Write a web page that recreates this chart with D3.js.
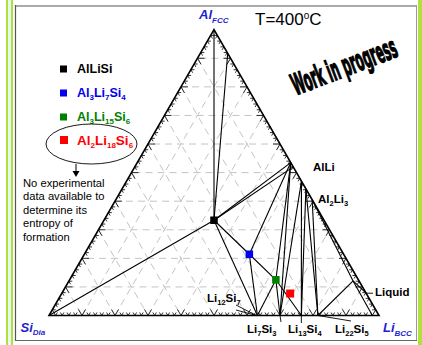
<!DOCTYPE html>
<html>
<head>
<meta charset="utf-8">
<script src="https://cdn.jsdelivr.net/npm/d3@7"></script>
<style>
  body { margin: 0; background: #fff; }
  text { font-family: "Liberation Sans", Arial, sans-serif; }
</style>
</head>
<body>
<svg id="chart" width="422" height="345"></svg>
<script>
// ---- data -------------------------------------------------------------
// compositions as atom counts [Al, Li, Si]
const vertexNodes = { Al: [1, 0, 0], Li: [0, 1, 0], Si: [0, 0, 1] };
const ternaryCompounds = [
  { id: "AlLiSi",     at: [1, 1, 1],  color: "#000000" },
  { id: "Al3Li7Si4",  at: [3, 7, 4],  color: "#0000ee" },
  { id: "Al3Li15Si6", at: [3, 15, 6], color: "#008000" },
  { id: "Al2Li18Si6", at: [2, 18, 6], color: "#ff0000" }
];
const binaryLiSi = [
  { id: "Li12Si7", at: [0, 12, 7] },
  { id: "Li7Si3",  at: [0, 7, 3] },
  { id: "Li13Si4", at: [0, 13, 4] },
  { id: "Li22Si5", at: [0, 22, 5] }
];
// phase-boundary points, mole fractions [Al, Li, Si]
const boundaryNodes = {
  AlFccMax: [0.917, 0.083, 0],
  AlLiA:    [0.535, 0.465, 0],
  AlLiA2:   [0.520, 0.480, 0],
  AlLiB:    [0.470, 0.530, 0],
  Al2Li3A:  [0.443, 0.557, 0],
  Al2Li3B:  [0.405, 0.595, 0],
  Liq1:     [0.121, 0.861, 0.018],
  LiqEdge:  [0.078, 0.922, 0],
  LiqBase:  [0, 0.980, 0.020]
};
// tie lines / phase boundaries at 400 °C
const tieLines = [
  ["Al", "AlLiSi"], ["AlFccMax", "AlLiSi"], ["Si", "AlLiSi"],
  ["AlLiSi", "AlLiA"], ["AlLiSi", "AlLiA2"], ["AlLiSi", "Li12Si7"],
  ["AlLiSi", "Al3Li7Si4"], ["Al3Li7Si4", "Li12Si7"], ["Al3Li7Si4", "AlLiA"],
  ["Al3Li7Si4", "Al3Li15Si6"], ["Al3Li15Si6", "Li12Si7"], ["Al3Li15Si6", "AlLiA"],
  ["Al3Li15Si6", "Li7Si3"], ["Al3Li15Si6", "Li13Si4"], ["Li7Si3", "AlLiA"],
  ["Li7Si3", "AlLiB"], ["Li13Si4", "AlLiB"], ["Li13Si4", "Al2Li3A"],
  ["Li22Si5", "Al2Li3A"], ["Li22Si5", "Al2Li3B"], ["Li22Si5", "Liq1"],
  ["Al2Li3B", "Liq1"], ["Liq1", "LiqBase"], ["Liq1", "LiqEdge"]
];
const gridValues = [0.1, 0.2, 0.3, 0.4, 0.5, 0.6, 0.7, 0.8, 0.9];
const tickFractions = d3.range(1, 50).map(i => i / 50);
const legendLabels = [
  { id: "AlLiSi",     parts: [["AlLiSi"]] },
  { id: "Al3Li7Si4",  parts: [["Al"], ["3", 1], ["Li"], ["7", 1], ["Si"], ["4", 1]] },
  { id: "Al3Li15Si6", parts: [["Al"], ["3", 1], ["Li"], ["15", 1], ["Si"], ["6", 1]] },
  { id: "Al2Li18Si6", parts: [["Al"], ["2", 1], ["Li"], ["18", 1], ["Si"], ["6", 1]] }
];
const noteLines = ["No experimental", "data available to", "determine its", "entropy of", "formation"];

// ---- geometry ---------------------------------------------------------
const svg = d3.select("#chart");
const ux = d3.scaleLinear().domain([0, 1]).range([49, 379]);      // xLi + xAl/2
const vy = d3.scaleLinear().domain([0, 1]).range([315.5, 29.7]);  // xAl
function proj(c) {
  const t = c[0] + c[1] + c[2];
  const a = c[0] / t, l = c[1] / t;
  return [ux(l + a / 2), vy(a)];
}
const nodes = Object.assign({}, vertexNodes, boundaryNodes);
ternaryCompounds.forEach(d => nodes[d.id] = d.at);
binaryLiSi.forEach(d => nodes[d.id] = d.at);

// ---- frame ------------------------------------------------------------
const green = "#b2e03a";
svg.append("rect").attr("x", 6).attr("y", 0).attr("width", 7).attr("height", 345).attr("fill", green);
svg.append("rect").attr("x", 8).attr("y", 0).attr("width", 3).attr("height", 345).attr("fill", "#e6f7f4");
svg.append("rect").attr("x", 418).attr("y", 0).attr("width", 4).attr("height", 345).attr("fill", green);
svg.append("line").attr("x1", 15).attr("x2", 416.5).attr("y1", 6).attr("y2", 6).attr("stroke", "#aaa").attr("stroke-width", 2);
svg.append("line").attr("x1", 416.5).attr("x2", 416.5).attr("y1", 5).attr("y2", 340.5).attr("stroke", "#999").attr("stroke-width", 1);
svg.append("line").attr("x1", 15.5).attr("x2", 15.5).attr("y1", 5).attr("y2", 341).attr("stroke", "#555").attr("stroke-width", 1.2);
svg.append("line").attr("x1", 15).attr("x2", 417).attr("y1", 340.5).attr("y2", 340.5).attr("stroke", "#666").attr("stroke-width", 1.2);

// ---- dashed grid ------------------------------------------------------
const gridG = svg.append("g").attr("stroke", "#c4c4c4").attr("stroke-width", 1)
  .attr("stroke-dasharray", "7,5").attr("fill", "none");
gridValues.forEach(g => {
  [[[g, 1 - g, 0], [g, 0, 1 - g]],
   [[0, g, 1 - g], [1 - g, g, 0]],
   [[1 - g, 0, g], [0, 1 - g, g]]].forEach(([p, q]) => {
    const a = proj(p), b = proj(q);
    gridG.append("line").attr("x1", a[0]).attr("y1", a[1]).attr("x2", b[0]).attr("y2", b[1]);
  });
});

// ---- edge ticks -------------------------------------------------------
const s3 = Math.sqrt(3) / 2;
const edges = [
  { at: f => [0, f, 1 - f], dirs: [[-0.5, -s3], [0.5, -s3]] },   // Si-Li
  { at: f => [f, 0, 1 - f], dirs: [[1, 0], [0.5, s3]] },         // Si-Al
  { at: f => [f, 1 - f, 0], dirs: [[-1, 0], [-0.5, s3]] }        // Al-Li
];
const tickG = svg.append("g").attr("stroke", "#000").attr("stroke-width", 0.8);
edges.forEach(e => tickFractions.forEach(f => {
  const p = proj(e.at(f));
  const len = Math.round(f * 50) % 5 === 0 ? 7 : 3.5;
  e.dirs.forEach(d => tickG.append("line")
    .attr("x1", p[0]).attr("y1", p[1])
    .attr("x2", p[0] + d[0] * len).attr("y2", p[1] + d[1] * len));
}));

// ---- triangle ---------------------------------------------------------
const tri = [proj(vertexNodes.Si), proj(vertexNodes.Li), proj(vertexNodes.Al)];
svg.append("path").attr("d", d3.line()(tri) + "Z")
  .attr("fill", "none").attr("stroke", "#000").attr("stroke-width", 1.6).attr("stroke-linejoin", "miter");

// ---- tie lines --------------------------------------------------------
const tieG = svg.append("g").attr("stroke", "#000").attr("stroke-width", 1.1);
tieLines.forEach(([p, q]) => {
  const a = proj(nodes[p]), b = proj(nodes[q]);
  tieG.append("line").attr("x1", a[0]).attr("y1", a[1]).attr("x2", b[0]).attr("y2", b[1]);
});

// ---- compound markers -------------------------------------------------
ternaryCompounds.forEach(d => {
  const p = proj(d.at), s = d.id === "Al2Li18Si6" ? 8 : 7.5;
  svg.append("rect").attr("x", p[0] - s / 2).attr("y", p[1] - s / 2)
    .attr("width", s).attr("height", s).attr("fill", d.color);
});

// ---- text helpers -----------------------------------------------------
function chem(x, y, parts, size, color, opt = {}) {
  const t = svg.append("text").attr("x", x).attr("y", y).attr("fill", color)
    .style("font-size", size + "px").style("font-weight", opt.weight || "bold")
    .style("font-style", opt.italic ? "italic" : "normal");
  const subSize = opt.subSize || size * 0.62, shift = opt.shift || size * 0.28;
  let off = 0;
  parts.forEach(([s, sub]) => {
    const target = sub ? shift : 0;
    t.append("tspan").attr("dy", target - off).style("font-size", (sub ? subSize : size) + "px").text(s);
    off = target;
  });
  return t;
}

// vertex labels
const vBlue = "#1f1fd0";
chem(199, 19, [["Al"], ["FCC", 1]], 13, vBlue, { italic: true, subSize: 8, shift: 3.5 });
chem(20.5, 331.5, [["Si"], ["Dia", 1]], 13, vBlue, { italic: true, subSize: 8, shift: 3.5 });
chem(383, 331.5, [["Li"], ["BCC", 1]], 13, vBlue, { italic: true, subSize: 8, shift: 4.5 });

// title
const title = svg.append("text").attr("x", 255).attr("y", 25).attr("fill", "#000").style("font-size", "17px");
title.append("tspan").text("T=400");
title.append("tspan").attr("dy", -6).style("font-size", "10px").text("o");
title.append("tspan").attr("dy", 6).text("C");

// stamp
svg.append("text")
  .attr("transform", "translate(344,66) rotate(-21) scale(0.8,1.85)")
  .attr("text-anchor", "middle").attr("dominant-baseline", "central")
  .style("font-family", "'Liberation Sans Narrow','DejaVu Sans Condensed',sans-serif")
  .style("font-weight", "bold").style("font-size", "16px")
  .attr("fill", "#000").attr("stroke", "#000").attr("stroke-width", 0.7)
  .text("Work in progress");

// legend
const legendY = [73, 97, 121, 145];
legendLabels.forEach((d, i) => {
  const comp = ternaryCompounds.find(c => c.id === d.id);
  const big = i === 3;
  const s = big ? 8 : 7;
  svg.append("rect").attr("x", 60).attr("y", legendY[i] - (big ? 9 : 7.5)).attr("width", s).attr("height", s).attr("fill", comp.color);
  chem(77, legendY[i], d.parts, big ? 13.5 : 12.5, comp.color, { subSize: 8, shift: 3 });
});
svg.append("ellipse").attr("cx", 91.5).attr("cy", 144).attr("rx", 45.5).attr("ry", 20)
  .attr("fill", "none").attr("stroke", "#000").attr("stroke-width", 0.9);
svg.append("line").attr("x1", 76).attr("x2", 76).attr("y1", 164).attr("y2", 172).attr("stroke", "#000").attr("stroke-width", 1);
svg.append("path").attr("d", "M72.5,171 L79.5,171 L76,177 Z").attr("fill", "#000");
noteLines.forEach((s, i) => {
  svg.append("text").attr("x", 23).attr("y", 187 + i * 13.4).attr("fill", "#000").style("font-size", "11.2px").text(s);
});

// phase labels
chem(313, 171, [["AlLi"]], 11.5, "#000");
chem(318, 203, [["Al"], ["2", 1], ["Li"], ["3", 1]], 11.5, "#000", { subSize: 7.5, shift: 3 });
chem(207, 302, [["Li"], ["12", 1], ["Si"], ["7", 1]], 11.5, "#000", { subSize: 7.5, shift: 3 });
chem(247, 333, [["Li"], ["7", 1], ["Si"], ["3", 1]], 11.5, "#000", { subSize: 7.5, shift: 3 });
chem(288, 333, [["Li"], ["13", 1], ["Si"], ["4", 1]], 11.5, "#000", { subSize: 7.5, shift: 3 });
chem(335, 333, [["Li"], ["22", 1], ["Si"], ["5", 1]], 11.5, "#000", { subSize: 7.5, shift: 3 });
chem(375, 296, [["Liquid"]], 11.5, "#000");

// label leaders
const leaderG = svg.append("g").attr("stroke", "#000").attr("stroke-width", 0.9);
const pL12 = proj(nodes.Li12Si7), pL7 = proj(nodes.Li7Si3), pL13 = proj(nodes.Li13Si4), pL22 = proj(nodes.Li22Si5);
leaderG.append("line").attr("x1", 236).attr("y1", 305).attr("x2", pL12[0] - 1).attr("y2", pL12[1]);
leaderG.append("line").attr("x1", 236).attr("y1", 310).attr("x2", pL12[0] - 1).attr("y2", pL12[1]);
leaderG.append("line").attr("x1", pL7[0]).attr("y1", pL7[1]).attr("x2", pL7[0] + 1).attr("y2", 322);
leaderG.append("line").attr("x1", pL13[0]).attr("y1", pL13[1]).attr("x2", pL13[0]).attr("y2", 323);
leaderG.append("line").attr("x1", pL22[0]).attr("y1", pL22[1]).attr("x2", 351).attr("y2", 321);
const pEdge = proj(nodes.LiqEdge);
leaderG.append("line").attr("x1", pEdge[0]).attr("y1", pEdge[1]).attr("x2", 373).attr("y2", pEdge[1]);
</script>
</body>
</html>
